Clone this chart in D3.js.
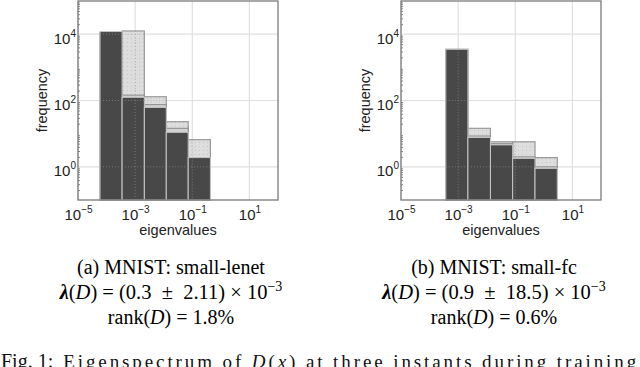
<!DOCTYPE html>
<html>
<head>
<meta charset="utf-8">
<script src="https://cdn.jsdelivr.net/npm/d3@7"></script>
<style>
  body { margin: 0; background: #fff; }
  svg { display: block; }
  text { white-space: pre; }
</style>
</head>
<body>
<svg id="fig" width="640" height="367"></svg>
<script>
// tick exponents
var xTickExp = [-5, -3, -1, 1];
var yTickExp = [0, 2, 4];

// panel (a) small-lenet : bin edges + three instants
var edgesA = [5.9e-5, 3.5e-4, 2.1e-3, 1.23e-2, 7.2e-2, 0.43];
var lightA = [11000, 12500, 130, 23, 6.6];
var midA   = [11500, 145, 75, 14.5, 1.9];
var darkA  = [12000, 125, 62, 11, 1.9];

// panel (b) small-fc
var edgesB = [3.7e-4, 2.2e-3, 1.35e-2, 8.1e-2, 0.49, 2.95];
var lightB = [3500, 14.5, 5.7, 5.7, 1.9];
var midB   = [3450, 8.5, 5.0, 2.0, 1.0];
var darkB  = [3500, 7.7, 4.6, 1.8, 0.9];

var captionsA = ["(a) MNIST: small-lenet", "0.3", "2.11", "1.8%"];
var captionsB = ["(b) MNIST: small-fc", "0.9", "18.5", "0.6%"];

var svg = d3.select("#fig");
var sans = "Liberation Sans, Arial, sans-serif";
var serif = "Liberation Serif, Times New Roman, serif";

var defs = svg.append("defs");
var pat = defs.append("pattern").attr("id", "dots")
    .attr("width", 4).attr("height", 4).attr("patternUnits", "userSpaceOnUse");
pat.append("rect").attr("width", 4).attr("height", 4).attr("fill", "#dddddd");
pat.append("rect").attr("x", 1).attr("y", 1).attr("width", 1).attr("height", 1).attr("fill", "#c4c4c4");

function panel(left, edges, light, mid, dark, caps) {
    var w = 200, h = 199, top = 1;
    var x = d3.scaleLog().domain([1e-5, 1e2]).range([0, w]);
    var y = d3.scaleLog().domain([1e-1, 1e5]).range([h, 0]);

    var g = svg.append("g").attr("transform", "translate(" + left + "," + top + ")");

    // grid
    g.selectAll(".gx").data(xTickExp).enter().append("line")
        .attr("x1", function(d) { return x(Math.pow(10, d)); })
        .attr("x2", function(d) { return x(Math.pow(10, d)); })
        .attr("y1", 0).attr("y2", h)
        .attr("stroke", "#e0e0e0").attr("stroke-width", 1.2);
    g.selectAll(".gy").data(yTickExp).enter().append("line")
        .attr("y1", function(d) { return y(Math.pow(10, d)); })
        .attr("y2", function(d) { return y(Math.pow(10, d)); })
        .attr("x1", 0).attr("x2", w)
        .attr("stroke", "#e0e0e0").attr("stroke-width", 1.2);

    var idx = d3.range(light.length);
    function bars(vals, fill, stroke, sw) {
        g.append("g").selectAll("rect").data(idx).enter().append("rect")
            .attr("x", function(i) { return x(edges[i]); })
            .attr("width", function(i) { return x(edges[i + 1]) - x(edges[i]); })
            .attr("y", function(i) { return y(vals[i]); })
            .attr("height", function(i) { return h - y(vals[i]); })
            .attr("fill", fill).attr("stroke", stroke).attr("stroke-width", sw);
    }
    bars(light, "url(#dots)", "#9a9a9a", 1.2);
    bars(mid, "#d2d2d2", "#8c8c8c", 1);
    bars(dark, "#484848", "#c8c8c8", 1);

    // dotted grid seen through the bars
    idx.forEach(function(i) {
        var x0 = x(edges[i]), x1 = x(edges[i + 1]);
        var yt = y(Math.max(light[i], dark[i]));
        yTickExp.forEach(function(e) {
            var yy = y(Math.pow(10, e));
            if (yy > yt) g.append("line").attr("x1", x0).attr("x2", x1).attr("y1", yy).attr("y2", yy)
                .attr("stroke", "#9a9a9a").attr("stroke-opacity", 0.6).attr("stroke-dasharray", "1,2");
        });
        xTickExp.forEach(function(e) {
            var xx = x(Math.pow(10, e));
            if (xx > x0 + 1 && xx < x1 - 1) g.append("line").attr("x1", xx).attr("x2", xx).attr("y1", yt).attr("y2", h)
                .attr("stroke", "#9a9a9a").attr("stroke-opacity", 0.6).attr("stroke-dasharray", "1,2");
        });
    });

    // minor ticks on y spine
    var minors = [];
    for (var e = -1; e < 5; e++) for (var k = 2; k < 10; k++) minors.push(k * Math.pow(10, e));
    g.append("g").call(d3.axisLeft(y).tickValues(minors).tickSize(-2).tickFormat(""))
        .call(function(s) { s.select(".domain").remove(); s.selectAll("line").attr("stroke", "#888"); });

    // frame
    g.append("rect").attr("width", w).attr("height", h)
        .attr("fill", "none").attr("stroke", "#7a7a7a").attr("stroke-width", 1.3);

    // axes with 10^n labels
    var xa = g.append("g").attr("transform", "translate(0," + h + ")")
        .call(d3.axisBottom(x).tickValues(xTickExp.map(function(d) { return Math.pow(10, d); }))
            .tickSize(0).tickPadding(9).tickFormat(""));
    xa.select(".domain").remove();
    xa.selectAll(".tick text").each(function(d) {
        var p = Math.round(Math.log10(d));
        var t = d3.select(this).attr("font-family", sans).attr("font-size", 15).attr("fill", "#222");
        t.append("tspan").text("10");
        t.append("tspan").attr("dy", -7).attr("font-size", 10)
            .text(p < 0 ? "\u2212" + Math.abs(p) : p);
    });

    var ya = g.append("g")
        .call(d3.axisLeft(y).tickValues(yTickExp.map(function(d) { return Math.pow(10, d); }))
            .tickSize(0).tickPadding(2).tickFormat(""));
    ya.select(".domain").remove();
    ya.selectAll(".tick text").each(function(d) {
        var t = d3.select(this).attr("font-family", sans).attr("font-size", 15).attr("fill", "#222")
            .attr("dy", "0.6em");
        t.append("tspan").text("10");
        t.append("tspan").attr("dy", -7).attr("font-size", 10).text(Math.round(Math.log10(d)));
    });

    g.append("text").attr("transform", "translate(" + (-31) + "," + (h / 2) + ") rotate(-90)")
        .attr("text-anchor", "middle").attr("font-family", sans).attr("font-size", 14.5)
        .attr("fill", "#222").text("frequency");
    g.append("text").attr("x", w / 2).attr("y", h + 35)
        .attr("text-anchor", "middle").attr("font-family", sans).attr("font-size", 14.5)
        .attr("fill", "#222").text("eigenvalues");

    // captions
    var cx = left + w / 2 - 7;
    svg.append("text").attr("x", cx).attr("y", 274).attr("text-anchor", "middle")
        .attr("font-family", serif).attr("font-size", 20).text(caps[0]);
    var l2 = svg.append("text").attr("x", cx).attr("y", 299).attr("text-anchor", "middle")
        .attr("font-family", serif).attr("font-size", 20.5);
    l2.append("tspan").attr("font-style", "italic").attr("font-weight", "bold").text("\u03bb");
    l2.append("tspan").text("(");
    l2.append("tspan").attr("font-style", "italic").text("D");
    l2.append("tspan").text(") = (" + caps[1] + "  \u00b1  " + caps[2] + ") \u00d7 10");
    l2.append("tspan").attr("dy", -8).attr("font-size", 14).text("\u22123");
    var l3 = svg.append("text").attr("x", cx).attr("y", 324).attr("text-anchor", "middle")
        .attr("font-family", serif).attr("font-size", 20);
    l3.append("tspan").text("rank(");
    l3.append("tspan").attr("font-style", "italic").text("D");
    l3.append("tspan").text(") = " + caps[3]);
}

panel(78, edgesA, lightA, midA, darkA, captionsA);
panel(401, edgesB, lightB, midB, darkB, captionsB);

var fig = svg.append("text").attr("x", 1).attr("y", 368)
    .attr("font-family", serif).attr("font-size", 20).attr("fill", "#111");
fig.append("tspan").text("Fig. 1:");
var rest = fig.append("tspan").attr("dx", 10).attr("font-size", 19).attr("letter-spacing", 2.9);
rest.append("tspan").text("Eigenspectrum of ");
rest.append("tspan").attr("font-style", "italic").text("D");
rest.append("tspan").text("(");
rest.append("tspan").attr("font-style", "italic").text("x");
rest.append("tspan").text(") at three instants during training");
</script>
</body>
</html>
